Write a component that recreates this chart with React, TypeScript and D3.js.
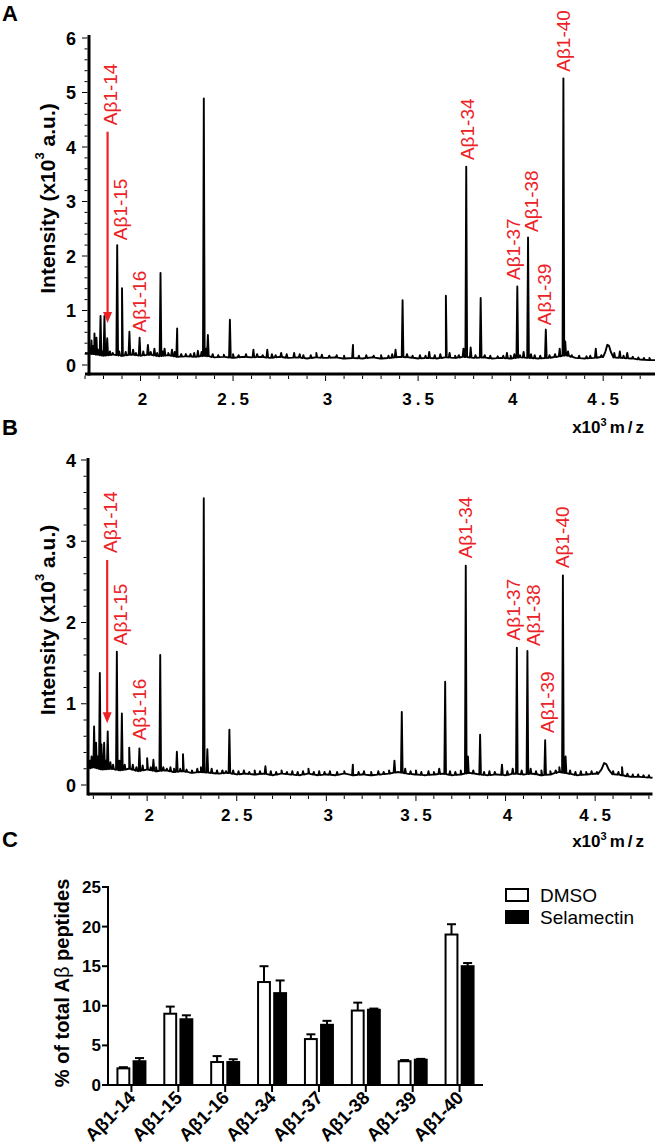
import React from 'react';
import * as d3 from 'd3';

const FONT = "'Liberation Sans', Arial, Helvetica, sans-serif";
const RED = '#ec2227';

type Pt = [number, number];

// ---------- Panel A spectrum (m/z x10^3, intensity x10^3 a.u.) ----------
const baselineA: Pt[] = [
  [1.70, 0.22], [1.75, 0.2], [1.80, 0.17], [1.85, 0.19], [1.90, 0.17], [1.95, 0.19], [2.00, 0.17],
  [2.05, 0.19], [2.10, 0.16], [2.15, 0.18], [2.20, 0.15], [2.25, 0.16], [2.30, 0.15], [2.35, 0.17],
  [2.40, 0.14], [2.45, 0.15], [2.50, 0.13], [2.55, 0.15], [2.60, 0.14], [2.65, 0.15], [2.70, 0.13],
  [2.75, 0.15], [2.80, 0.13], [2.85, 0.14], [2.90, 0.12], [2.95, 0.14], [3.00, 0.13], [3.05, 0.14],
  [3.10, 0.12], [3.15, 0.13], [3.20, 0.12], [3.25, 0.14], [3.30, 0.12], [3.35, 0.13], [3.40, 0.15],
  [3.45, 0.14], [3.50, 0.12], [3.55, 0.13], [3.60, 0.12], [3.65, 0.14], [3.70, 0.13], [3.75, 0.15],
  [3.80, 0.13], [3.85, 0.14], [3.90, 0.12], [3.95, 0.13], [4.00, 0.12], [4.05, 0.14], [4.10, 0.13],
  [4.15, 0.12], [4.20, 0.13], [4.25, 0.15], [4.30, 0.18], [4.35, 0.13], [4.40, 0.12], [4.45, 0.13],
  [4.50, 0.15], [4.60, 0.13], [4.65, 0.12], [4.70, 0.1], [4.75, 0.09], [4.78, 0.09],
];
const peaksA: Pt[] = [
  [1.725, 0.3], [1.735, 0.45], [1.742, 0.35], [1.751, 0.58], [1.762, 0.5], [1.77, 0.28], [1.784, 0.9],
  [1.795, 0.25], [1.805, 0.9], [1.82, 0.49], [1.835, 0.25], [1.85, 0.22], [1.874, 2.2], [1.885, 0.25],
  [1.90, 1.41], [1.92, 0.24], [1.94, 0.61], [1.96, 0.28], [1.975, 0.22], [1.995, 0.5], [2.015, 0.25],
  [2.04, 0.37], [2.055, 0.24], [2.075, 0.3], [2.09, 0.22], [2.108, 1.69], [2.12, 0.25], [2.13, 0.3],
  [2.15, 0.22], [2.17, 0.28], [2.185, 0.24], [2.198, 0.67], [2.22, 0.2], [2.245, 0.2], [2.27, 0.2],
  [2.29, 0.22], [2.31, 0.26], [2.33, 0.24], [2.342, 4.89], [2.355, 0.3], [2.364, 0.55], [2.39, 0.2],
  [2.42, 0.18], [2.45, 0.19], [2.483, 0.83], [2.5, 0.2], [2.53, 0.18], [2.57, 0.2], [2.61, 0.28],
  [2.63, 0.2], [2.66, 0.18], [2.685, 0.28], [2.71, 0.2], [2.73, 0.18], [2.76, 0.22], [2.79, 0.2],
  [2.83, 0.22], [2.86, 0.2], [2.88, 0.18], [2.92, 0.18], [2.95, 0.22], [2.98, 0.19], [3.02, 0.17],
  [3.06, 0.18], [3.1, 0.17], [3.148, 0.37], [3.18, 0.17], [3.22, 0.18], [3.26, 0.17], [3.3, 0.18],
  [3.34, 0.17], [3.36, 0.2], [3.378, 0.28], [3.416, 1.19], [3.44, 0.2], [3.47, 0.17], [3.51, 0.18],
  [3.54, 0.17], [3.56, 0.24], [3.59, 0.18], [3.62, 0.2], [3.65, 1.27], [3.67, 0.22], [3.7, 0.17],
  [3.72, 0.18], [3.745, 0.3], [3.76, 3.64], [3.784, 0.32], [3.81, 0.18], [3.838, 1.23], [3.86, 0.18],
  [3.89, 0.17], [3.93, 0.16], [3.96, 0.17], [3.98, 0.22], [4.0, 0.17], [4.02, 0.2], [4.036, 1.44],
  [4.05, 0.18], [4.07, 0.24], [4.094, 2.34], [4.11, 0.2], [4.13, 0.18], [4.16, 0.17], [4.19, 0.65],
  [4.21, 0.18], [4.24, 0.2], [4.265, 0.3], [4.285, 5.26], [4.295, 0.43], [4.31, 0.25], [4.33, 0.18],
  [4.37, 0.17], [4.41, 0.16], [4.43, 0.17], [4.46, 0.3], [4.49, 0.18], [4.56, 0.22], [4.59, 0.25],
  [4.61, 0.17], [4.63, 0.22], [4.66, 0.15], [4.69, 0.14], [4.72, 0.13], [4.75, 0.13],
];
const bumpsA: [number, number, number][] = [[4.527, 0.37, 0.03]];
const labelsA = [
  { name: 'Aβ1-14', mz: 1.838, at: 4.4 },
  { name: 'Aβ1-15', mz: 1.892, at: 2.29 },
  { name: 'Aβ1-16', mz: 1.995, at: 0.6 },
  { name: 'Aβ1-34', mz: 3.768, at: 3.76 },
  { name: 'Aβ1-37', mz: 4.016, at: 1.56 },
  { name: 'Aβ1-38', mz: 4.114, at: 2.44 },
  { name: 'Aβ1-39', mz: 4.184, at: 0.73 },
  { name: 'Aβ1-40', mz: 4.286, at: 5.38 },
];
const arrowA = { mz: 1.822, from: 4.28, to: 0.77 };

// ---------- Panel B spectrum ----------
const baselineB: Pt[] = [
  [1.67, 0.2], [1.70, 0.22], [1.75, 0.19], [1.80, 0.2], [1.85, 0.18], [1.90, 0.2], [1.95, 0.17],
  [2.00, 0.19], [2.05, 0.17], [2.10, 0.18], [2.15, 0.16], [2.20, 0.17], [2.25, 0.15], [2.30, 0.16],
  [2.35, 0.15], [2.40, 0.14], [2.45, 0.15], [2.50, 0.13], [2.55, 0.14], [2.60, 0.13], [2.65, 0.14],
  [2.70, 0.12], [2.75, 0.14], [2.80, 0.13], [2.85, 0.12], [2.90, 0.14], [2.95, 0.12], [3.00, 0.13],
  [3.05, 0.12], [3.10, 0.14], [3.15, 0.12], [3.20, 0.13], [3.25, 0.12], [3.30, 0.13], [3.35, 0.14],
  [3.40, 0.16], [3.45, 0.14], [3.50, 0.13], [3.55, 0.12], [3.60, 0.13], [3.65, 0.14], [3.70, 0.12],
  [3.75, 0.13], [3.80, 0.15], [3.85, 0.13], [3.90, 0.12], [3.95, 0.13], [4.00, 0.12], [4.05, 0.14],
  [4.10, 0.13], [4.15, 0.14], [4.20, 0.12], [4.25, 0.13], [4.30, 0.16], [4.35, 0.14], [4.40, 0.12],
  [4.45, 0.13], [4.50, 0.14], [4.62, 0.13], [4.65, 0.12], [4.70, 0.1], [4.75, 0.1], [4.82, 0.09],
];
const peaksB: Pt[] = [
  [1.68, 0.3], [1.69, 0.35], [1.704, 0.72], [1.715, 0.52], [1.725, 0.35], [1.736, 1.38], [1.745, 0.5],
  [1.76, 0.52], [1.77, 0.3], [1.78, 0.66], [1.795, 0.28], [1.81, 0.25], [1.831, 1.64], [1.845, 0.3],
  [1.859, 0.88], [1.875, 0.25], [1.90, 0.46], [1.92, 0.25], [1.94, 0.22], [1.957, 0.45], [1.975, 0.24],
  [2.0, 0.33], [2.02, 0.22], [2.035, 0.31], [2.05, 0.22], [2.073, 1.6], [2.09, 0.22], [2.11, 0.2],
  [2.13, 0.22], [2.15, 0.2], [2.166, 0.41], [2.185, 0.2], [2.2, 0.38], [2.22, 0.19], [2.25, 0.18],
  [2.28, 0.2], [2.3, 0.22], [2.316, 3.53], [2.336, 0.44], [2.36, 0.2], [2.39, 0.18], [2.42, 0.18],
  [2.44, 0.17], [2.459, 0.68], [2.48, 0.18], [2.51, 0.17], [2.54, 0.18], [2.57, 0.16], [2.6, 0.18],
  [2.63, 0.17], [2.66, 0.23], [2.69, 0.17], [2.72, 0.16], [2.75, 0.18], [2.78, 0.16], [2.81, 0.17],
  [2.84, 0.16], [2.87, 0.17], [2.9, 0.2], [2.93, 0.16], [2.96, 0.17], [2.99, 0.16], [3.02, 0.17],
  [3.06, 0.16], [3.1, 0.17], [3.148, 0.25], [3.18, 0.16], [3.21, 0.17], [3.25, 0.16], [3.29, 0.17],
  [3.32, 0.16], [3.35, 0.18], [3.38, 0.3], [3.421, 0.9], [3.44, 0.2], [3.47, 0.17], [3.5, 0.18],
  [3.53, 0.16], [3.57, 0.17], [3.6, 0.16], [3.63, 0.2], [3.663, 1.27], [3.69, 0.17], [3.72, 0.16],
  [3.75, 0.18], [3.778, 2.7], [3.79, 0.35], [3.82, 0.18], [3.858, 0.62], [3.88, 0.16], [3.91, 0.17],
  [3.94, 0.16], [3.98, 0.25], [4.01, 0.17], [4.04, 0.2], [4.063, 1.69], [4.09, 0.18], [4.122, 1.65],
  [4.14, 0.2], [4.17, 0.17], [4.2, 0.18], [4.221, 0.55], [4.25, 0.17], [4.28, 0.18], [4.3, 0.22],
  [4.32, 2.58], [4.335, 0.35], [4.36, 0.18], [4.39, 0.16], [4.42, 0.17], [4.45, 0.16], [4.48, 0.17],
  [4.51, 0.16], [4.6, 0.17], [4.63, 0.16], [4.65, 0.22], [4.68, 0.14], [4.71, 0.13], [4.74, 0.13],
  [4.77, 0.12], [4.8, 0.12],
];
const bumpsB: [number, number, number][] = [[4.556, 0.27, 0.04]];
const labelsB = [
  { name: 'Aβ1-14', mz: 1.794, at: 2.855 },
  { name: 'Aβ1-15', mz: 1.849, at: 1.72 },
  { name: 'Aβ1-16', mz: 1.955, at: 0.55 },
  { name: 'Aβ1-34', mz: 3.775, at: 2.79 },
  { name: 'Aβ1-37', mz: 4.042, at: 1.78 },
  { name: 'Aβ1-38', mz: 4.154, at: 1.71 },
  { name: 'Aβ1-39', mz: 4.232, at: 0.64 },
  { name: 'Aβ1-40', mz: 4.316, at: 2.67 },
];
const arrowB = { mz: 1.777, from: 2.77, to: 0.76 };

const spectrumXTickLabels = [2, 2.5, 3, 3.5, 4, 4.5];
const spectrumAYTickLabels = [0, 1, 2, 3, 4, 5, 6];
const spectrumBYTickLabels = [0, 1, 2, 3, 4];

// ---------- Panel C bar chart ----------
const peptides = ['Aβ1-14', 'Aβ1-15', 'Aβ1-16', 'Aβ1-34', 'Aβ1-37', 'Aβ1-38', 'Aβ1-39', 'Aβ1-40'];
const groups = ['DMSO', 'Selamectin'];
const dmsoMean = [2.1, 9.0, 2.9, 13.0, 5.8, 9.4, 3.0, 19.0];
const dmsoSem = [0.15, 0.9, 0.75, 2.0, 0.6, 1.0, 0.15, 1.3];
const selMean = [3.0, 8.3, 2.9, 11.6, 7.6, 9.5, 3.2, 15.0];
const selSem = [0.4, 0.5, 0.35, 1.6, 0.5, 0.15, 0.1, 0.4];
const barYTicks = [0, 5, 10, 15, 20, 25];

function buildSpectrum(baseline: Pt[], peaks: Pt[], bumps: [number, number, number][]): Pt[] {
  const bis = d3.bisector((p: Pt) => p[0]).left;
  const baseAt = (m: number) => {
    const i = Math.max(1, Math.min(baseline.length - 1, bis(baseline, m)));
    const a = baseline[i - 1], b = baseline[i];
    const t = (m - a[0]) / (b[0] - a[0]);
    return a[1] + (b[1] - a[1]) * Math.max(0, Math.min(1, t));
  };
  const pts: Pt[] = [...baseline];
  const hw = 0.0045;
  peaks.forEach(([m, h]) => {
    const b = baseAt(m);
    pts.push([m - hw, b], [m, h], [m + hw, b]);
  });
  bumps.forEach(([m, h, w]) => {
    const b = baseAt(m);
    pts.push([m - w, b], [m - w * 0.5, b + (h - b) * 0.45], [m - w * 0.15, h], [m + w * 0.15, h * 0.95], [m + w * 0.5, b + (h - b) * 0.4], [m + w, b]);
  });
  return pts.sort((a, b) => a[0] - b[0]);
}

type SpecProps = {
  letter: string;
  letterY: number;
  xDomain: [number, number];
  xRange: [number, number];
  yDomain: [number, number];
  yRange: [number, number];
  yAxisX: number;
  yTop: number;
  xAxisY: number;
  tickLabelY: number;
  xLabelY: number;
  yTickLabels: number[];
  baseline: Pt[];
  peaks: Pt[];
  bumps: [number, number, number][];
  labels: { name: string; mz: number; at: number }[];
  arrow: { mz: number; from: number; to: number };
};

function Spectrum(p: SpecProps) {
  const x = d3.scaleLinear(p.xDomain, p.xRange);
  const y = d3.scaleLinear(p.yDomain, p.yRange);
  const pts = buildSpectrum(p.baseline, p.peaks, p.bumps);
  const line = d3.line<Pt>().x((d) => x(d[0])).y((d) => y(d[1]));
  const xMinor = x.ticks(40).filter((v) => x(v) >= p.xRange[0] - 0.5);
  const yMinor = d3.range(0, Math.round(p.yDomain[1] * 5) + 1).map((i) => i / 5);
  const isInt = (v: number) => Math.abs(v - Math.round(v)) < 1e-6;
  const isHalf = (v: number) => Math.abs(v * 2 - Math.round(v * 2)) < 1e-6;
  const ax = x(p.arrow.mz);
  const ay1 = y(p.arrow.from);
  const ay2 = y(p.arrow.to);
  const midY = (p.yTop + p.xAxisY) / 2 - 6;
  return (
    <g>
      <text x={2} y={p.letterY} fontFamily={FONT} fontWeight="bold" fontSize={22}>{p.letter}</text>
      <path d={line(pts) || ''} fill="none" stroke="#000" strokeWidth={1.9} strokeLinejoin="round" />
      {/* y axis */}
      <line x1={p.yAxisX} x2={p.yAxisX} y1={p.yTop} y2={p.xAxisY + 1.5} stroke="#000" strokeWidth={3} />
      {yMinor.map((v) => (
        <line key={'yt' + v} x1={p.yAxisX - 1.5} x2={p.yAxisX - (isInt(v) ? 7 : 4.5)} y1={y(v)} y2={y(v)} stroke="#000" strokeWidth={1} />
      ))}
      {p.yTickLabels.map((v) => (
        <text key={'yl' + v} x={76} y={y(v) + 6.5} textAnchor="end" fontFamily={FONT} fontWeight="bold" fontSize={18}>{v}</text>
      ))}
      {/* x axis */}
      <line x1={p.xRange[0]} x2={p.xRange[1]} y1={p.xAxisY} y2={p.xAxisY} stroke="#000" strokeWidth={3} />
      {xMinor.map((v) => (
        <line key={'xt' + v} x1={x(v)} x2={x(v)} y1={p.xAxisY + 1.5} y2={p.xAxisY + (isHalf(v) ? 7 : 5)} stroke="#000" strokeWidth={1} />
      ))}
      {spectrumXTickLabels.map((v) => (
        <text key={'xl' + v} x={x(v) + 2} y={p.tickLabelY} textAnchor="middle" fontFamily={FONT} fontWeight="bold" fontSize={17} letterSpacing={String(v).length > 1 ? 4 : 0}>{v}</text>
      ))}
      <text x={647} y={p.xLabelY} textAnchor="end" fontFamily={FONT} fontWeight="bold" fontSize={17}>
        x10<tspan fontSize={11} dy={-7}>3</tspan><tspan dy={7} dx={3} letterSpacing={3}>m/z</tspan>
      </text>
      <text transform={`translate(47,${midY}) rotate(-90)`} textAnchor="middle" dominantBaseline="central" fontFamily={FONT} fontWeight="bold" fontSize={21}>
        Intensity (x10<tspan fontSize={13} dy={-8}>3</tspan><tspan dy={8}> a.u.)</tspan>
      </text>
      {/* red annotations */}
      <line x1={ax} x2={ax} y1={ay1} y2={ay2 - 10} stroke={RED} strokeWidth={2.2} />
      <path d={`M${ax - 4.5},${ay2 - 11} L${ax + 4.5},${ay2 - 11} L${ax},${ay2} Z`} fill={RED} />
      {p.labels.map((l) => (
        <text key={l.name} transform={`translate(${x(l.mz)},${y(l.at)}) rotate(-90)`} textAnchor="start" dominantBaseline="central" fontFamily={FONT} fontSize={19} fill={RED}>{l.name}</text>
      ))}
    </g>
  );
}

function BarChart() {
  const y = d3.scaleLinear([0, 25], [1085, 887]);
  const x0 = d3.scaleBand<string>(peptides, [108, 483]);
  const x1 = d3.scaleBand<string>(groups, [0, 30]).paddingInner(0.14);
  const means = [dmsoMean, selMean];
  const sems = [dmsoSem, selSem];
  const fills = ['#fff', '#000'];
  return (
    <g>
      <text x={2} y={847} fontFamily={FONT} fontWeight="bold" fontSize={22}>C</text>
      {peptides.map((cat, i) => {
        const c = (x0(cat) as number) + x0.bandwidth() / 2;
        return (
          <g key={cat}>
            {groups.map((g, gi) => {
              const bx = c - 15 + (x1(g) as number);
              const bw = x1.bandwidth();
              const v = means[gi][i];
              const e = sems[gi][i];
              const cx = bx + bw / 2;
              return (
                <g key={g}>
                  <line x1={cx} x2={cx} y1={y(v)} y2={y(v + e)} stroke="#000" strokeWidth={2} />
                  <line x1={cx - 4.5} x2={cx + 4.5} y1={y(v + e)} y2={y(v + e)} stroke="#000" strokeWidth={2} />
                  <rect x={bx + 1} y={y(v)} width={bw - 2} height={y(0) - y(v)} fill={fills[gi]} stroke="#000" strokeWidth={2} />
                </g>
              );
            })}
            <line x1={c} x2={c} y1={1085} y2={1092} stroke="#000" strokeWidth={2} />
            <text transform={`translate(${c + 5},${1099}) rotate(-45)`} textAnchor="end" fontFamily={FONT} fontWeight="bold" fontSize={18.5}>{cat}</text>
          </g>
        );
      })}
      <line x1={108} x2={108} y1={886} y2={1086} stroke="#000" strokeWidth={2} />
      <line x1={103} x2={483} y1={1085} y2={1085} stroke="#000" strokeWidth={2} />
      {barYTicks.map((v) => (
        <g key={v}>
          <line x1={102} x2={108} y1={y(v)} y2={y(v)} stroke="#000" strokeWidth={2} />
          <text x={101} y={y(v) + 6} textAnchor="end" fontFamily={FONT} fontWeight="bold" fontSize={17}>{v}</text>
        </g>
      ))}
      <text transform={`translate(62,${983}) rotate(-90)`} textAnchor="middle" dominantBaseline="central" fontFamily={FONT} fontWeight="bold" fontSize={20}>
        % of total A<tspan fontWeight="normal">β</tspan> peptides
      </text>
      {groups.map((g, gi) => (
        <g key={g}>
          <rect x={506} y={889 + gi * 22} width={22} height={12} fill={fills[gi]} stroke="#000" strokeWidth={2} />
          <text x={540} y={902 + gi * 22} fontFamily={FONT} fontSize={19}>{g}</text>
        </g>
      ))}
    </g>
  );
}

export default function App() {
  return (
    <svg width={657} height={1147} viewBox="0 0 657 1147" style={{ position: 'absolute', left: 0, top: 0, background: '#fff' }}>
      <rect x={0} y={0} width={657} height={1147} fill="#fff" />
      <Spectrum
        letter="A" letterY={21}
        xDomain={[1.7, 4.78]} xRange={[85, 655]}
        yDomain={[0, 6]} yRange={[365, 38]}
        yAxisX={89} yTop={35} xAxisY={374} tickLabelY={405} xLabelY={433}
        yTickLabels={spectrumAYTickLabels}
        baseline={baselineA} peaks={peaksA} bumps={bumpsA} labels={labelsA} arrow={arrowA}
      />
      <Spectrum
        letter="B" letterY={435}
        xDomain={[1.67, 4.82]} xRange={[88, 652.5]}
        yDomain={[0, 4]} yRange={[785, 460]}
        yAxisX={88} yTop={458} xAxisY={794} tickLabelY={821} xLabelY={847}
        yTickLabels={spectrumBYTickLabels}
        baseline={baselineB} peaks={peaksB} bumps={bumpsB} labels={labelsB} arrow={arrowB}
      />
      <BarChart />
    </svg>
  );
}
